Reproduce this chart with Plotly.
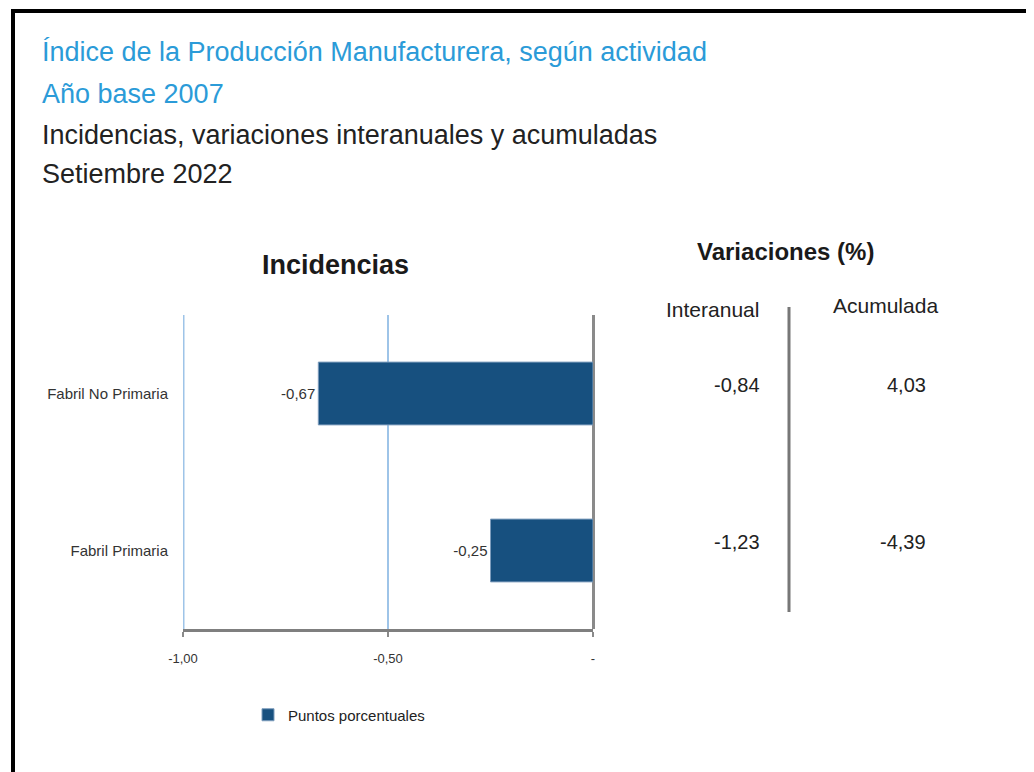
import plotly.graph_objects as go

# ---------------- data ----------------
categories = ["Fabril No Primaria", "Fabril Primaria"]
incidencias = [-0.67, -0.25]
interanual = [-0.84, -1.23]
acumulada = [4.03, -4.39]
x_tickvals = [-1.0, -0.5, 0.0]
x_ticktext = ["-1,00", "-0,50", "-"]
legend_name = "Puntos porcentuales"

title_lines = [
    ("Índice de la Producción Manufacturera, según actividad", "#2b9bd8"),
    ("Año base 2007", "#2b9bd8"),
    ("Incidencias, variaciones interanuales y acumuladas", "#222222"),
    ("Setiembre 2022", "#222222"),
]

def fmt(v):
    return f"{v:.2f}".replace(".", ",")

FONT = "Liberation Sans, Arial, sans-serif"
W, H = 1034, 772
OFF = 8  # page offset of the figure inside the browser window
L, R, T, B = 183 - OFF, 593 - OFF, 315 - OFF, 629 - OFF

def xp(px):
    return (px - OFF - L) / (R - L)

def yp(py):
    return (B - (py - OFF)) / (B - T)

GRID = "#9ec4e8"

fig = go.Figure()
fig.add_trace(go.Bar(
    x=incidencias, y=categories, orientation="h",
    name=legend_name, width=0.4,
    marker=dict(color="#17507f", line=dict(color="#7d9cbc", width=1)),
    text=[fmt(v) for v in incidencias], textposition="outside",
    textfont=dict(family=FONT, size=15, color="#333333"),
    cliponaxis=False, showlegend=True,
))

ann = []
for (txt, col), cy in zip(title_lines, [52, 94, 135, 174]):
    ann.append(dict(text=txt, x=xp(40), y=yp(cy), xref="paper", yref="paper",
                    xanchor="left", yanchor="middle", showarrow=False,
                    font=dict(family=FONT, size=27, color=col)))
ann.append(dict(text="<b>Incidencias</b>", x=xp(335), y=yp(265), xref="paper", yref="paper",
                xanchor="center", yanchor="middle", showarrow=False,
                font=dict(family=FONT, size=27, color="#1a1a1a")))
ann.append(dict(text="<b>Variaciones (%)</b>", x=xp(785), y=yp(252), xref="paper", yref="paper",
                xanchor="center", yanchor="middle", showarrow=False,
                font=dict(family=FONT, size=24, color="#1a1a1a")))
ann.append(dict(text="Interanual", x=xp(712), y=yp(309), xref="paper", yref="paper",
                xanchor="center", yanchor="middle", showarrow=False,
                font=dict(family=FONT, size=21, color="#222222")))
ann.append(dict(text="Acumulada", x=xp(885), y=yp(306), xref="paper", yref="paper",
                xanchor="center", yanchor="middle", showarrow=False,
                font=dict(family=FONT, size=21, color="#222222")))
for i, (a, b) in enumerate(zip(interanual, acumulada)):
    ann.append(dict(text=fmt(a), x=xp(762), y=i, xref="paper", yref="y",
                    xanchor="right", yanchor="middle", yshift=9, showarrow=False,
                    font=dict(family=FONT, size=20, color="#222222")))
    ann.append(dict(text=fmt(b), x=xp(928), y=i, xref="paper", yref="y",
                    xanchor="right", yanchor="middle", yshift=9, showarrow=False,
                    font=dict(family=FONT, size=20, color="#222222")))

shapes = [
    dict(type="rect", xref="paper", yref="paper", x0=xp(13), x1=xp(1060),
         y0=yp(11), y1=yp(800), line=dict(color="black", width=4), layer="below"),
    dict(type="line", xref="paper", yref="paper", x0=xp(789), x1=xp(789),
         y0=yp(307), y1=yp(612), line=dict(color="#777777", width=3)),
    # gridline at the left edge of the x range (hidden by plotly at the boundary)
    dict(type="line", xref="x", yref="paper", x0=x_tickvals[0], x1=x_tickvals[0],
         y0=0, y1=1, line=dict(color=GRID, width=3), layer="above"),
]

fig.update_layout(
    width=W, height=H,
    margin=dict(l=L, r=W - R, t=T, b=H - B, autoexpand=False),
    paper_bgcolor="white", plot_bgcolor="white",
    font=dict(family=FONT, color="#222222"),
    annotations=ann, shapes=shapes,
    showlegend=True,
    legend=dict(x=xp(248), y=yp(715), xanchor="left", yanchor="middle",
                orientation="h", font=dict(family=FONT, size=15, color="#222222"),
                bgcolor="rgba(0,0,0,0)", itemwidth=30),
)
fig.update_xaxes(
    range=[-1.0, 0.0], tickvals=x_tickvals, ticktext=x_ticktext,
    showgrid=True, gridcolor=GRID, gridwidth=2,
    zeroline=True, zerolinecolor="#8a8a8a", zerolinewidth=3,
    showline=True, linecolor="#7f7f7f", linewidth=3,
    ticks="outside", ticklen=5, tickwidth=2, tickcolor="#8a8a8a",
    ticklabelstandoff=10,
    tickfont=dict(family=FONT, size=13, color="#333333"),
)
fig.update_yaxes(
    categoryorder="array", categoryarray=categories, autorange="reversed",
    showgrid=False, zeroline=False, showline=False, ticks="",
    ticklabelstandoff=14,
    tickfont=dict(family=FONT, size=15, color="#333333"),
)

fig.write_html("out.html")
